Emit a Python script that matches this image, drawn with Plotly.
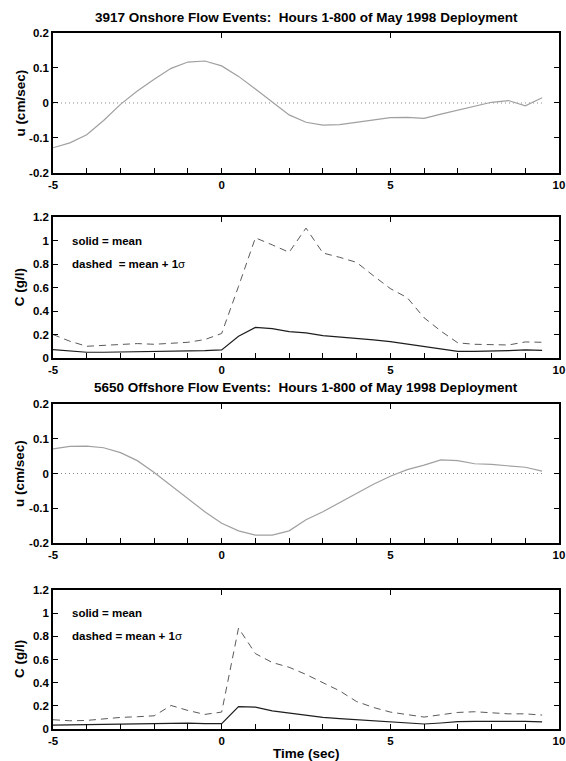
import plotly.graph_objects as go

# ---------------- data ----------------
time = [-5, -4.5, -4, -3.5, -3, -2.5, -2, -1.5, -1, -0.5, 0, 0.5, 1, 1.5, 2, 2.5,
        3, 3.5, 4, 4.5, 5, 5.5, 6, 6.5, 7, 7.5, 8, 8.5, 9, 9.5]

u_onshore = [-0.128, -0.114, -0.091, -0.050, -0.004, 0.034, 0.068, 0.099, 0.117, 0.120,
             0.106, 0.076, 0.040, 0.002, -0.034, -0.055, -0.063, -0.062, -0.055, -0.047,
             -0.042, -0.041, -0.044, -0.032, -0.021, -0.011, 0.002, 0.007, -0.008, 0.015]

c_on_mean = [0.071, 0.057, 0.049, 0.049, 0.051, 0.051, 0.051, 0.054, 0.057, 0.063,
             0.069, 0.186, 0.260, 0.251, 0.225, 0.214, 0.191, 0.180, 0.169, 0.154,
             0.140, 0.120, 0.094, 0.074, 0.057, 0.057, 0.057, 0.063, 0.069, 0.065]

c_on_std = [0.200, 0.143, 0.100, 0.109, 0.117, 0.123, 0.117, 0.123, 0.134, 0.157,
            0.209, 0.610, 1.023, 0.963, 0.900, 1.106, 0.894, 0.857, 0.814, 0.700,
            0.591, 0.514, 0.343, 0.229, 0.129, 0.117, 0.117, 0.111, 0.137, 0.134]

u_offshore = [0.071, 0.078, 0.079, 0.074, 0.060, 0.037, 0.003, -0.035, -0.073, -0.110,
              -0.143, -0.165, -0.177, -0.177, -0.165, -0.133, -0.110, -0.084, -0.057, -0.031,
              -0.008, 0.011, 0.024, 0.039, 0.037, 0.028, 0.026, 0.023, 0.018, 0.007]

c_off_mean = [0.034, 0.036, 0.037, 0.038, 0.040, 0.041, 0.043, 0.051, 0.051, 0.046,
              0.046, 0.194, 0.189, 0.157, 0.140, 0.120, 0.100, 0.090, 0.080, 0.068,
              0.057, 0.050, 0.043, 0.052, 0.063, 0.065, 0.066, 0.066, 0.066, 0.062]

c_off_std = [0.080, 0.071, 0.074, 0.089, 0.100, 0.106, 0.114, 0.203, 0.160, 0.126,
             0.146, 0.871, 0.651, 0.574, 0.533, 0.471, 0.403, 0.329, 0.237, 0.186,
             0.146, 0.123, 0.103, 0.123, 0.143, 0.149, 0.140, 0.131, 0.131, 0.120]

zero_line = [0.0] * len(time)

x_tickvals = [-5, 0, 5, 10]
x_ticktext = ["-5", "0", "5", "10"]
u_tickvals = [-0.2, -0.1, 0, 0.1, 0.2]
u_ticktext = ["-0.2", "-0.1", "0", "0.1", "0.2"]
c_tickvals = [0, 0.2, 0.4, 0.6, 0.8, 1.0, 1.2]
c_ticktext = ["0", "0.2", "0.4", "0.6", "0.8", "1", "1.2"]

titles = ["3917 Onshore Flow Events:  Hours 1-800 of May 1998 Deployment",
          "5650 Offshore Flow Events:  Hours 1-800 of May 1998 Deployment"]

# ---------------- styling ----------------
FONT = "Liberation Sans, Arial, Helvetica, sans-serif"
U_COLOR = "#a0a0a0"
ZERO_COLOR = "#8a8a8a"
DASH_COLOR = "#5a5a5a"
MEAN_COLOR = "#1e1e1e"

fig = go.Figure()

def add_u(u, ax):
    xa, ya = ax
    fig.add_trace(go.Scatter(x=time, y=zero_line, mode="lines", xaxis=xa, yaxis=ya,
                             line=dict(color=ZERO_COLOR, width=1, dash="1px,3px"), hoverinfo="skip"))
    fig.add_trace(go.Scatter(x=time, y=u, mode="lines", xaxis=xa, yaxis=ya,
                             line=dict(color=U_COLOR, width=1.2)))

def add_c(mean, std, ax):
    xa, ya = ax
    fig.add_trace(go.Scatter(x=time, y=std, mode="lines", xaxis=xa, yaxis=ya,
                             line=dict(color=DASH_COLOR, width=1, dash="7px,5px")))
    fig.add_trace(go.Scatter(x=time, y=mean, mode="lines", xaxis=xa, yaxis=ya,
                             line=dict(color=MEAN_COLOR, width=1.2)))

add_u(u_onshore, ("x", "y"))
add_c(c_on_mean, c_on_std, ("x2", "y2"))
add_u(u_offshore, ("x3", "y3"))
add_c(c_off_mean, c_off_std, ("x4", "y4"))

# empty traces to register minor-tick overlay axes
for i in range(4):
    fig.add_trace(go.Scatter(x=[], y=[], xaxis="x%d" % (5 + i),
                             yaxis=("y" if i == 0 else "y%d" % (i + 1)), hoverinfo="skip"))

domains = [(0.7989, 1.0), (0.5330, 0.7356), (0.2672, 0.4670), (0.0, 0.1997)]
tickfont = dict(family=FONT, size=11.5, color="black", weight="bold")

layout = dict(
    template="none",
    width=566, height=761,
    margin=dict(l=53, r=7, t=33, b=32, autoexpand=False),
    paper_bgcolor="white", plot_bgcolor="white",
    showlegend=False,
    font=dict(family=FONT, color="black"),
)

for i in range(4):
    xn = "xaxis" if i == 0 else "xaxis%d" % (i + 1)
    yn = "yaxis" if i == 0 else "yaxis%d" % (i + 1)
    yref = "y" if i == 0 else "y%d" % (i + 1)
    xref = "x" if i == 0 else "x%d" % (i + 1)
    layout[xn] = dict(domain=[0, 1], anchor=yref, range=[-5, 10], automargin=False,
                      tickvals=x_tickvals, ticktext=x_ticktext,
                      ticks="inside", ticklen=5, tickwidth=1, tickcolor="black",
                      showline=True, linecolor="black", linewidth=1.5, mirror="ticks",
                      showgrid=False, zeroline=False, tickfont=tickfont,
                      ticklabelstandoff=0)
    if i % 2 == 0:
        yv, yt, yr = u_tickvals, u_ticktext, [-0.2, 0.2]
    else:
        yv, yt, yr = c_tickvals, c_ticktext, [0, 1.2]
    layout[yn] = dict(domain=list(domains[i]), anchor=xref, range=yr, automargin=False,
                      tickvals=yv, ticktext=yt,
                      ticks="inside", ticklen=5, tickwidth=1, tickcolor="black",
                      showline=True, linecolor="black", linewidth=1.5, mirror="ticks",
                      showgrid=False, zeroline=False, tickfont=tickfont)
    # minor ticks on bottom only
    mn = "xaxis%d" % (5 + i)
    layout[mn] = dict(overlaying=xref, anchor=yref, side="bottom", range=[-5, 10],
                      automargin=False,
                      tickmode="linear", tick0=-5, dtick=1,
                      ticks="inside", ticklen=5, tickwidth=1, tickcolor="black",
                      showticklabels=False, showline=False, showgrid=False, zeroline=False)

fig.update_layout(**layout)

ann = []
title_font = dict(family=FONT, size=13.5, color="black", weight="bold")
ann.append(dict(text=titles[0], xref="paper", yref="paper", x=0.5, y=1.0216,
                xanchor="center", yanchor="middle", showarrow=False, font=title_font))
ann.append(dict(text=titles[1], xref="paper", yref="paper", x=0.5, y=0.49,
                xanchor="center", yanchor="middle", showarrow=False, font=title_font))
ann.append(dict(text="Time (sec)", xref="paper", yref="paper", x=0.5, y=-0.0345,
                xanchor="center", yanchor="middle", showarrow=False, font=title_font))

ylabels = ["u (cm/sec)", "C (g/l)", "u (cm/sec)", "C (g/l)"]
ycenters = [0.8994, 0.6343, 0.3671, 0.0999]
for lab, yc in zip(ylabels, ycenters):
    ann.append(dict(text=lab, xref="paper", yref="paper", x=-0.066, y=yc, textangle=-90,
                    xanchor="center", yanchor="middle", showarrow=False, font=title_font))

legend_font = dict(family=FONT, size=11.5, color="black", weight="normal")
legend_texts = [("x2", "y2", "<b>dashed\u00a0 = mean + 1</b>\u03c3"),
                ("x4", "y4", "<b>dashed = mean + 1</b>\u03c3")]
for xr, yr, dtext in legend_texts:
    ann.append(dict(text="<b>solid = mean</b>", xref=xr, yref=yr, x=-4.5, y=1.0,
                    xanchor="left", yanchor="middle", showarrow=False, font=legend_font))
    ann.append(dict(text=dtext, xref=xr, yref=yr, x=-4.5, y=0.8,
                    xanchor="left", yanchor="middle", showarrow=False, font=legend_font))

fig.update_layout(annotations=ann)

fig.write_html("out.html", config={"displayModeBar": False},
               post_script="document.body.style.margin='0';document.body.style.overflow='hidden';")
